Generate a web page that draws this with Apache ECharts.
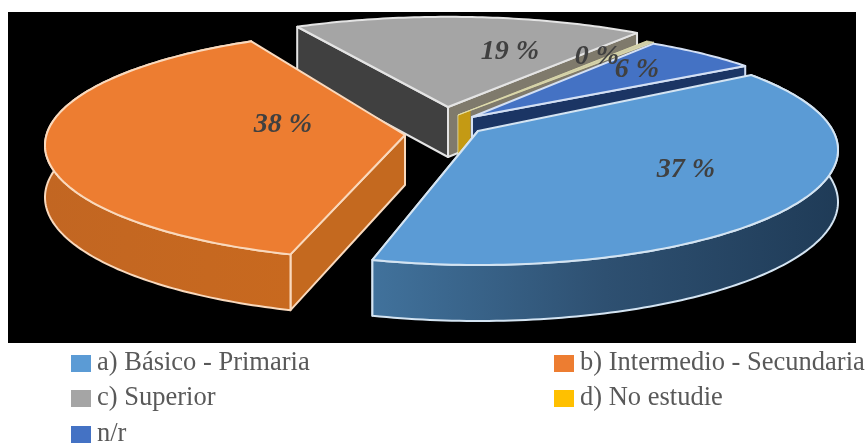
<!DOCTYPE html>
<html>
<head>
<meta charset="utf-8">
<style>html,body{margin:0;padding:0;background:#fff}#c{width:868px;height:445px}</style>
<script src="https://cdn.jsdelivr.net/npm/echarts@6/dist/echarts.min.js"></script>
</head>
<body>
<div id="c"></div>
<script>
var categories = ['a) Básico - Primaria', 'b) Intermedio - Secundaria', 'c) Superior', 'd) No estudie', 'n/r'];
var values = [37, 38, 19, 0.4, 6];
var labels = ['37 %', '38 %', '19 %', '0 %', '6 %'];
var colors = ['#5B9BD5', '#ED7D31', '#A5A5A5', '#FFC000', '#4472C4'];

// layout of the exploded, tilted pie
var RX = 360, START_DEG = 60;
var RY = [115, 115, 108, 108, 105];
var PERSP = [0.165, 0.09, 0.165, 0.165, 0.165];
var PIE = [440, 125];
var SHIFT = [[38, 6], [-35, 10], [8, -18], [18, -10], [32, -8]];
var ANGLE_NUDGE = [[-3, 1.8], [4.3, 3.5], [2, 0], [0, 0], [-3, -3]];
var LABEL_OFF = [[208, 39], [-122, -10], [62, -55], [139, -58], [165, -47]];
var DRAW_ORDER = [14, 13, 10, 11, 12];
var EDGE = ['#d4e4f2', '#f9d9bd', '#e4e4e4', '#e8e4b0', '#d4e0f4'];
var FADE = {type:'linear',x:0,y:0,x2:1,y2:0,colorStops:[{offset:0,color:'#c49a14'},{offset:0.06,color:'#c49a14'},{offset:0.07,color:'#7f7a6c'},{offset:1,color:'#7f7a6c'}]};
var FADE_TOP = {type:'linear',x:0,y:0,x2:1,y2:0,colorStops:[{offset:0,color:'#e8c020'},{offset:0.06,color:'#e8c020'},{offset:0.07,color:'#cfcda8'},{offset:1,color:'#cfcda8'}]};
var WALL_START = [null, '#c4691f', '#404040', FADE, null];
var WALL_END = ['#2e5274', null, '#7f7a6c', FADE, '#1b3564'];
var WALL_OUT = [
  {type:'linear',x:0,y:0,x2:1,y2:0,colorStops:[{offset:0,color:'#41729c'},{offset:0.5,color:'#2e5071'},{offset:1,color:'#1f3b57'}]},
  {type:'linear',x:0,y:0,x2:1,y2:0,colorStops:[{offset:0,color:'#c26622'},{offset:1,color:'#c8691f'}]},
  null, null, null
];
var TOP_FILL = [colors[0], colors[1], colors[2], FADE_TOP, colors[4]];

var total = values.reduce(function (a, b) { return a + b; }, 0);

// unit disc (clockwise degrees from the back) -> screen offset from the slice tip
function project(deg, c, ry) {
  var r = deg * Math.PI / 180, u = Math.sin(r), v = -Math.cos(r);
  var w = 1 - c * v;
  var x = u * Math.sqrt(1 - c * c) / w;
  var y = (v - c) / w;
  return [RX * x, ry * (y + c), y];
}
function depth(y) { return 52 + 4 * y; }

function renderSlice(params, api) {
  var i = params.seriesIndex;
  var before = 0;
  for (var k = 0; k < i; k++) before += values[k];
  var a0 = START_DEG + before / total * 360 + ANGLE_NUDGE[i][0];
  var a1 = START_DEG + (before + api.value(0)) / total * 360 + ANGLE_NUDGE[i][1];
  var tx = PIE[0] + SHIFT[i][0], ty = PIE[1] + SHIFT[i][1];
  var arc = [], low = [], n = Math.max(2, Math.ceil(a1 - a0));
  for (var s = 0; s <= n; s++) {
    var p = project(a0 + (a1 - a0) * s / n, PERSP[i], RY[i]);
    arc.push([tx + p[0], ty + p[1]]);
    low.push([tx + p[0], ty + p[1] + depth(p[2])]);
  }
  var tipLow = [tx, ty + 50];
  function poly(points, fill, lw) {
    return {type: 'polygon', shape: {points: points},
      style: {fill: fill, stroke: EDGE[i], lineWidth: lw, lineJoin: 'round'}};
  }
  var lw = i === 3 ? 0.6 : 2;
  var children = [];
  if (WALL_START[i]) children.push(poly([[tx, ty], arc[0], low[0], tipLow], WALL_START[i], lw));
  if (WALL_END[i]) children.push(poly([[tx, ty], arc[n], low[n], tipLow], WALL_END[i], lw));
  if (WALL_OUT[i]) children.push(poly(arc.concat(low.slice().reverse()), WALL_OUT[i], lw));
  children.push(poly([[tx, ty]].concat(arc), TOP_FILL[i], lw));
  return {type: 'group', children: children};
}

function renderLabel(params, api) {
  var i = api.value(0);
  return {type: 'text', style: {
    text: labels[i],
    x: PIE[0] + SHIFT[i][0] + LABEL_OFF[i][0], y: PIE[1] + SHIFT[i][1] + LABEL_OFF[i][1],
    align: 'center', verticalAlign: 'middle',
    font: 'italic bold 28px "Liberation Serif"', fill: '#404040'}};
}

var legendPos = [[71, 350], [554, 350], [71, 385], [554, 385], [71, 421]];
var chart = echarts.init(document.getElementById('c'), null, {renderer: 'canvas'});
chart.setOption({
  animation: false,
  backgroundColor: '#ffffff',
  graphic: [{type: 'rect', z: -1, silent: true, shape: {x: 8, y: 12, width: 848, height: 331}, style: {fill: '#000000'}}],
  legend: categories.map(function (name, i) {
    return {
      data: [{name: name, icon: 'rect'}], left: legendPos[i][0], top: legendPos[i][1], padding: 0,
      itemWidth: 20, itemHeight: 17, itemGap: 0, selectedMode: false,
      textStyle: {fontFamily: '"Liberation Serif"', fontSize: 26.5, color: '#595959', padding: [0, 0, 0, 1]}
    };
  }),
  series: categories.map(function (name, i) {
    return {
      type: 'custom', name: name, coordinateSystem: 'none', z: DRAW_ORDER[i], silent: true,
      itemStyle: {color: colors[i]}, renderItem: renderSlice, data: [[values[i]]]
    };
  }).concat([{
    type: 'custom', name: 'labels', coordinateSystem: 'none', z: 20, silent: true,
    renderItem: renderLabel, data: labels.map(function (t, i) { return [i]; })
  }])
});
</script>
</body>
</html>
